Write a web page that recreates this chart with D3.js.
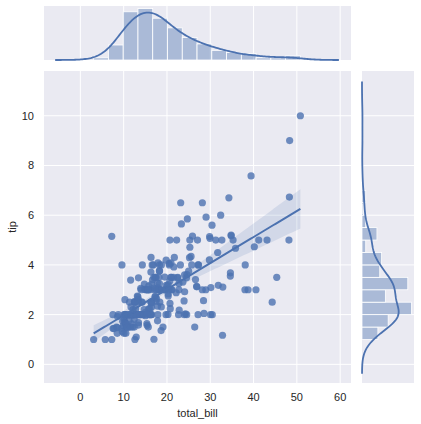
<!DOCTYPE html>
<html>
<head>
<meta charset="utf-8">
<script src="https://cdn.jsdelivr.net/npm/d3@7"></script>
<style>
  body { margin: 0; background: #fff; }
  svg text { font-family: "Liberation Sans", Arial, sans-serif; fill: #262626; }
</style>
</head>
<body>
<div id="chart"></div>
<script>
// tips dataset: total bill and tip per party
var totalBill = [16.99,10.34,21.01,23.68,24.59,25.29,8.77,26.88,15.04,14.78,10.27,35.26,15.42,18.43,14.83,21.58,10.33,16.29,16.97,20.65,17.92,20.29,15.77,39.42,19.82,17.81,13.37,12.69,21.7,19.65,9.55,18.35,15.06,20.69,17.78,24.06,16.31,16.93,18.69,31.27,16.04,17.46,13.94,9.68,30.4,18.29,22.23,32.4,28.55,18.04,12.54,10.29,34.81,9.94,25.56,19.49,38.01,26.41,11.24,48.27,20.29,13.81,11.02,18.29,17.59,20.08,16.45,3.07,20.23,15.01,12.02,17.07,26.86,25.28,14.73,10.51,17.92,27.2,22.76,17.29,19.44,16.66,10.07,32.68,15.98,34.83,13.03,18.28,24.71,21.16,28.97,22.49,5.75,16.32,22.75,40.17,27.28,12.03,21.01,12.46,11.35,15.38,44.3,22.42,20.92,15.36,20.49,25.21,18.24,14.31,14.0,7.25,38.07,23.95,25.71,17.31,29.93,10.65,12.43,24.08,11.69,13.42,14.26,15.95,12.48,29.8,8.52,14.52,11.38,22.82,19.08,20.27,11.17,12.26,18.26,8.51,10.33,14.15,16.0,13.16,17.47,34.3,41.19,27.05,16.43,8.35,18.64,11.87,9.78,7.51,14.07,13.13,17.26,24.55,19.77,29.85,48.17,25.0,13.39,16.49,21.5,12.66,16.21,13.81,17.51,24.52,20.76,31.71,10.59,10.63,50.81,15.81,7.25,31.85,16.82,32.9,17.89,14.48,9.6,34.63,34.65,23.33,45.35,23.17,40.55,20.69,20.9,30.46,18.15,23.1,15.69,19.81,28.44,15.48,16.58,7.56,10.34,43.11,13.0,13.51,18.71,12.74,13.0,16.4,20.53,16.47,26.59,38.73,24.27,12.76,30.06,25.89,48.33,13.27,28.17,12.9,28.15,11.59,7.74,30.14,12.16,13.42,8.58,15.98,13.42,16.27,10.09,20.45,13.28,22.12,24.01,15.69,11.61,10.77,15.53,10.07,12.6,32.83,35.83,29.03,27.18,22.67,17.82,18.78];
var tip = [1.01,1.66,3.5,3.31,3.61,4.71,2.0,3.12,1.96,3.23,1.71,5.0,1.57,3.0,3.02,3.92,1.67,3.71,3.5,3.35,4.08,2.75,2.23,7.58,3.18,2.34,2.0,2.0,4.3,3.0,1.45,2.5,3.0,2.45,3.27,3.6,2.0,3.07,2.31,5.0,2.24,2.54,3.06,1.32,5.6,3.0,5.0,6.0,2.05,3.0,2.5,2.6,5.2,1.56,4.34,3.51,3.0,1.5,1.76,6.73,3.21,2.0,1.98,3.76,2.64,3.15,2.47,1.0,2.01,2.09,1.97,3.0,3.14,5.0,2.2,1.25,3.08,4.0,3.0,2.71,3.0,3.4,1.83,5.0,2.03,5.17,2.0,4.0,5.85,3.0,3.0,3.5,1.0,4.3,3.25,4.73,4.0,1.5,3.0,1.5,2.5,3.0,2.5,3.48,4.08,1.64,4.06,4.29,3.76,4.0,3.0,1.0,4.0,2.55,4.0,3.5,5.07,1.5,1.8,2.92,2.31,1.68,2.5,2.0,2.52,4.2,1.48,2.0,2.0,2.18,1.5,2.83,1.5,2.0,3.25,1.25,2.0,2.0,2.0,2.75,3.5,6.7,5.0,5.0,2.3,1.5,1.36,1.63,1.73,2.0,2.5,2.0,2.74,2.0,2.0,5.14,5.0,3.75,2.61,2.0,3.5,2.5,2.0,2.0,3.0,3.48,2.24,4.5,1.61,2.0,10.0,3.16,5.15,3.18,4.0,3.11,2.0,2.0,4.0,3.55,3.68,5.65,3.5,6.5,3.0,5.0,3.5,2.0,3.5,4.0,1.5,4.19,2.56,2.02,4.0,1.44,2.0,5.0,2.0,2.0,4.0,2.01,2.0,2.5,4.0,3.23,3.41,3.0,2.03,2.23,2.0,5.16,9.0,2.5,6.5,1.1,3.0,1.5,1.44,3.09,2.2,3.48,1.92,3.0,1.58,2.5,2.0,3.0,2.72,2.88,2.0,3.0,3.39,1.47,3.0,1.25,1.0,1.17,4.67,5.92,2.0,2.0,1.75,3.0];

var xTicks = [0, 10, 20, 30, 40, 50, 60];
var yTicks = [0, 2, 4, 6, 8, 10];
var xDomain = [-8.4, 62.5];
var yDomain = [-0.75, 11.8];

var W = 421, H = 424;
var blue = '#4C72B0', bg = '#EAEAF2';

// panel boxes (pixels)
var main = {x0: 44, x1: 351, y0: 71, y1: 383};
var top_ = {x0: 44, x1: 351, y0: 6, y1: 60};
var right = {x0: 362, x1: 414, y0: 71, y1: 383};

var svg = d3.select('#chart').append('svg')
	.attr('width', W)
	.attr('height', H);

var x = d3.scaleLinear().domain(xDomain).range([main.x0, main.x1]);
var y = d3.scaleLinear().domain(yDomain).range([main.y1, main.y0]);

function panel(b) {
	svg.append('rect')
		.attr('x', b.x0).attr('y', b.y0)
		.attr('width', b.x1 - b.x0).attr('height', b.y1 - b.y0)
		.attr('fill', bg);
}
panel(main); panel(top_); panel(right);

// gridlines
function vgrid(b) {
	svg.append('g').selectAll('line').data(xTicks).enter().append('line')
		.attr('x1', x).attr('x2', x)
		.attr('y1', b.y0).attr('y2', b.y1)
		.attr('stroke', '#fff').attr('stroke-width', 1);
}
function hgrid(b) {
	svg.append('g').selectAll('line').data(yTicks).enter().append('line')
		.attr('y1', y).attr('y2', y)
		.attr('x1', b.x0).attr('x2', b.x1)
		.attr('stroke', '#fff').attr('stroke-width', 1);
}
vgrid(main); hgrid(main); vgrid(top_); hgrid(right);

// tick labels
svg.append('g').selectAll('text').data(xTicks).enter().append('text')
	.attr('x', x).attr('y', 401)
	.attr('text-anchor', 'middle')
	.attr('font-size', 11)
	.text(function(d) { return d; });
svg.append('g').selectAll('text').data(yTicks).enter().append('text')
	.attr('x', 34).attr('y', function(d) { return y(d) + 4; })
	.attr('text-anchor', 'end')
	.attr('font-size', 11)
	.text(function(d) { return d; });

svg.append('text')
	.attr('x', (main.x0 + main.x1) / 2).attr('y', 417)
	.attr('text-anchor', 'middle').attr('font-size', 11)
	.text('total_bill');
svg.append('text')
	.attr('transform', 'translate(16,' + ((main.y0 + main.y1) / 2) + ') rotate(-90)')
	.attr('text-anchor', 'middle').attr('font-size', 11)
	.text('tip');

// --- helpers ---
function kde(values, n) {
	var bw = d3.deviation(values) * Math.pow(values.length, -0.2);
	var lo = d3.min(values) - 3 * bw, hi = d3.max(values) + 3 * bw;
	var pts = [];
	for (var i = 0; i < n; i++) {
		var t = lo + (hi - lo) * i / (n - 1);
		var s = 0;
		values.forEach(function(v) {
			var z = (t - v) / bw;
			s += Math.exp(-0.5 * z * z);
		});
		pts.push([t, s / (values.length * bw * Math.sqrt(2 * Math.PI))]);
	}
	return pts;
}

function bins(values, count) {
	var lo = d3.min(values), hi = d3.max(values);
	var w = (hi - lo) / count;
	var out = d3.range(count).map(function(i) {
		return {x0: lo + i * w, x1: lo + (i + 1) * w, n: 0};
	});
	values.forEach(function(v) {
		var i = Math.min(count - 1, Math.floor((v - lo) / w));
		out[i].n++;
	});
	return {bins: out, width: w};
}

// --- top marginal ---
var hx = bins(totalBill, 14);
var kx = kde(totalBill, 200);
var kxScale = totalBill.length * hx.width;
var topMax = Math.max(d3.max(hx.bins, function(d) { return d.n; }),
	d3.max(kx, function(d) { return d[1] * kxScale; }));
var ty = d3.scaleLinear().domain([0, topMax * 1.05]).range([top_.y1, top_.y0]);

svg.append('g').selectAll('rect').data(hx.bins).enter().append('rect')
	.attr('x', function(d) { return x(d.x0); })
	.attr('width', function(d) { return x(d.x1) - x(d.x0); })
	.attr('y', function(d) { return ty(d.n); })
	.attr('height', function(d) { return ty(0) - ty(d.n); })
	.attr('fill', blue).attr('fill-opacity', 0.4)
	.attr('stroke', '#fff').attr('stroke-width', 0.8);

svg.append('path')
	.datum(kx)
	.attr('fill', 'none').attr('stroke', blue).attr('stroke-width', 1.8)
	.attr('d', d3.line()
		.x(function(d) { return x(d[0]); })
		.y(function(d) { return ty(d[1] * kxScale); }));

// --- right marginal ---
var hy = bins(tip, 18);
var ky = kde(tip, 200);
var kyScale = tip.length * hy.width;
var rMax = Math.max(d3.max(hy.bins, function(d) { return d.n; }),
	d3.max(ky, function(d) { return d[1] * kyScale; }));
var rx = d3.scaleLinear().domain([0, rMax * 1.05]).range([right.x0, right.x1]);

svg.append('g').selectAll('rect').data(hy.bins).enter().append('rect')
	.attr('y', function(d) { return y(d.x1); })
	.attr('height', function(d) { return y(d.x0) - y(d.x1); })
	.attr('x', rx(0))
	.attr('width', function(d) { return rx(d.n) - rx(0); })
	.attr('fill', blue).attr('fill-opacity', 0.4)
	.attr('stroke', '#fff').attr('stroke-width', 0.8);

svg.append('path')
	.datum(ky)
	.attr('fill', 'none').attr('stroke', blue).attr('stroke-width', 1.8)
	.attr('d', d3.line()
		.x(function(d) { return rx(d[1] * kyScale); })
		.y(function(d) { return y(d[0]); }));

// --- scatter ---
var pts = totalBill.map(function(b, i) { return [b, tip[i]]; });
svg.append('g').selectAll('circle').data(pts).enter().append('circle')
	.attr('cx', function(d) { return x(d[0]); })
	.attr('cy', function(d) { return y(d[1]); })
	.attr('r', 3.6)
	.attr('fill', blue).attr('fill-opacity', 0.8);

// --- regression fit, 95% band from robust (sandwich) error, close to a pairs bootstrap ---
var n = pts.length;
var mx = d3.mean(totalBill), my = d3.mean(tip);
var sxx = d3.sum(totalBill, function(v) { return (v - mx) * (v - mx); });
var sxy = d3.sum(pts, function(d) { return (d[0] - mx) * (d[1] - my); });
var slope = sxy / sxx, icpt = my - slope * mx;
var resid = pts.map(function(d) { return d[1] - (icpt + slope * d[0]); });
var grid = d3.range(0, 101).map(function(i) {
	var xv = d3.min(totalBill) + (d3.max(totalBill) - d3.min(totalBill)) * i / 100;
	var yv = icpt + slope * xv;
	var v = 0;
	pts.forEach(function(d, j) {
		var w = 1 / n + (d[0] - mx) * (xv - mx) / sxx;
		v += w * w * resid[j] * resid[j];
	});
	var h = 1.96 * Math.sqrt(v * n / (n - 2));
	return {x: xv, y: yv, lo: yv - h, hi: yv + h};
});

svg.append('path')
	.datum(grid)
	.attr('fill', blue).attr('fill-opacity', 0.15)
	.attr('d', d3.area()
		.x(function(d) { return x(d.x); })
		.y0(function(d) { return y(d.lo); })
		.y1(function(d) { return y(d.hi); }));

svg.append('path')
	.datum(grid)
	.attr('fill', 'none').attr('stroke', blue).attr('stroke-width', 2)
	.attr('d', d3.line()
		.x(function(d) { return x(d.x); })
		.y(function(d) { return y(d.y); }));
</script>
</body>
</html>
